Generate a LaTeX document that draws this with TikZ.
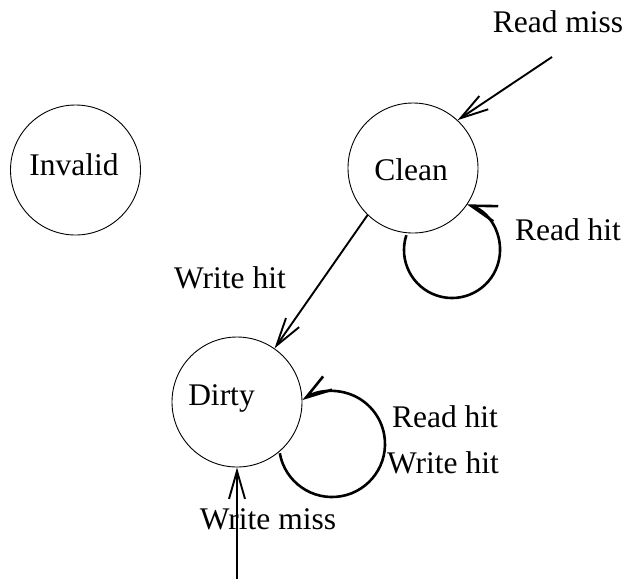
\documentclass[tikz,border=0pt]{standalone}
\usepackage{fontspec}
\setmainfont{Liberation Serif}
\usetikzlibrary{arrows.meta}
\begin{document}
\begin{tikzpicture}[x=1pt,y=1pt,
  every node/.style={font=\fontsize{31.5}{36}\selectfont},
  state/.style={draw,circle,line width=0.9pt,minimum size=130pt,inner sep=0pt},
  txt/.style={anchor=base,inner sep=0pt},
  arr/.style={line width=1.9pt,-{Straight Barb[length=28pt,width=16pt]}},
  selfloop/.style={line width=2.6pt,-{Straight Barb[length=26pt,width=16pt]}}]
\useasboundingbox (0,0) rectangle (626,-582);
% states
\node[state] (invalid) at (75.5,-170) {};
\node[state] (clean) at (413,-168) {};
\node[state] (dirty) at (237,-402) {};
\node[txt] (tinvalid) at (74,-175) {Invalid};
\node[txt] (tclean) at (411,-180) {Clean};
\node[txt] (tdirty) at (221.5,-405) {Dirty};
% read miss
\coordinate (rmstart) at (552,-57);
\draw[arr] (rmstart) -- (clean.47);
\node[txt] (lrm) at (558,-32) {Read miss};
% clean self loop
\coordinate (cl) at (452,-250);
\draw[selfloop] (cl) ++(162:48) arc[start angle=162,end angle=432,radius=48];
\node[txt] (lcrh) at (568,-240) {Read hit};
% write hit
\draw[arr] (clean.226) -- (dirty.55);
\node[txt] (lwh) at (230,-288) {Write hit};
% dirty self loop
\coordinate (dl) at (332,-444);
\draw[selfloop] (dl) ++(190:53) arc[start angle=190,end angle=484,radius=53];
\node[txt] (ldrh) at (445,-427) {Read hit};
\node[txt] (ldwh) at (443,-473) {Write hit};
% write miss
\coordinate (wmstart) at (237,-579);
\draw[arr] (wmstart) -- (dirty.south);
\node[txt] (lwm) at (268,-529) {Write miss};
\end{tikzpicture}
\end{document}
